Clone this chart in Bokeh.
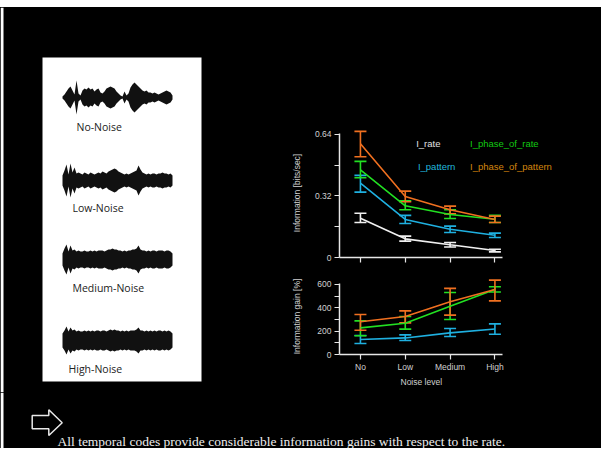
import numpy as np
from bokeh.plotting import figure
from bokeh.models import (Range1d, FixedTicker, Whisker, TeeHead, ColumnDataSource, Label,
                          Spacer, Title)
from bokeh.layouts import row, column
from bokeh.embed import file_html
from bokeh.resources import INLINE
from bokeh.core.properties import value

# ---------------- data ----------------
levels = ["No", "Low", "Medium", "High"]
xpos = [0, 1, 2, 3]

# Information [bits/sec]
rate = [0.204, 0.097, 0.066, 0.036]
rate_lo = [0.182, 0.085, 0.055, 0.029]
rate_hi = [0.230, 0.111, 0.078, 0.043]
pattern = [0.387, 0.198, 0.147, 0.116]
pattern_lo = [0.340, 0.177, 0.130, 0.104]
pattern_hi = [0.427, 0.219, 0.163, 0.127]
phase_rate = [0.456, 0.269, 0.224, 0.199]
phase_rate_lo = [0.415, 0.248, 0.203, 0.182]
phase_rate_hi = [0.500, 0.295, 0.248, 0.219]
phase_pattern = [0.592, 0.317, 0.248, 0.198]
phase_pattern_lo = [0.524, 0.290, 0.227, 0.182]
phase_pattern_hi = [0.656, 0.345, 0.267, 0.215]

# Information gain [%]
pattern_gain = [129, 142, 185, 219]
pattern_gain_lo = [94, 120, 154, 174]
pattern_gain_hi = [163, 168, 223, 262]
phase_rate_gain = [228, 268, 414, 557]
phase_rate_gain_lo = [160, 217, 300, 535]
phase_rate_gain_hi = [288, 326, 531, 580]
phase_pattern_gain = [280, 326, 451, 557]
phase_pattern_gain_lo = [208, 271, 337, 459]
phase_pattern_gain_hi = [343, 374, 566, 637]

top_ticks = [0, 0.32, 0.64]
top_minor = [0.16, 0.48]
bot_ticks = [0, 200, 400, 600]
bot_minor = [100, 300, 500]

legend_names = ["I_rate", "I_phase_of_rate", "I_pattern", "I_phase_of_pattern"]

wave_labels = ["No-Noise", "Low-Noise", "Medium-Noise", "High-Noise"]
# half-amplitudes of the sound envelopes (2 px steps)
wave_no = [1, 3, 6, 9, 11, 7, 3, 17, 4, 2, 7, 9, 8, 10, 8, 9, 6, 8, 9, 5, 4, 6, 9, 10,
           11, 10, 9, 6, 4, 2, 1, 6, 2, 4, 10, 13, 15, 13, 11, 9, 7, 6, 7, 5, 5, 4,
           5, 4, 3, 4, 5, 6, 7, 6, 5, 2]
wave_low = [5, 10, 16, 6, 17, 8, 13, 7, 8, 7, 6, 8, 7, 6, 8, 7, 6, 7, 8, 7, 9, 8, 7, 9,
            10, 11, 12, 11, 9, 8, 7, 6, 7, 6, 7, 8, 9, 10, 15, 11, 8, 7, 6, 7, 6, 7,
            7, 6, 7, 7, 8, 7, 7, 6, 7, 5]
wave_med = [6, 11, 15, 8, 14, 9, 10, 8, 9, 8, 8, 9, 8, 8, 9, 8, 9, 8, 9, 9, 9, 8, 9, 10,
            10, 11, 10, 10, 9, 9, 8, 9, 8, 9, 9, 10, 10, 11, 14, 10, 9, 9, 8, 9, 8, 9,
            9, 8, 9, 9, 9, 8, 9, 9, 8, 6]
wave_high = [7, 10, 14, 9, 13, 10, 11, 9, 10, 9, 9, 10, 9, 10, 9, 10, 9, 10, 10, 9, 10, 10, 9, 10,
             11, 10, 11, 10, 10, 9, 10, 9, 10, 9, 10, 10, 10, 11, 13, 10, 10, 9, 10, 9, 10, 9,
             10, 9, 10, 10, 9, 10, 9, 10, 9, 7]

caption = "All temporal codes provide considerable information gains with respect to the rate."

# ---------------- styles ----------------
BG = "black"
C_WHITE = "#F0F0F0"
C_CYAN = "#1FB0E0"
C_GREEN = "#22E022"
C_ORANGE = "#F07020"
TXT = "#D0D0D0"
FONT = "Liberation Sans"
BLACK_STYLE = {"background-color": "black"}


def base(w, h, **kw):
    p = figure(width=w, height=h, output_backend="svg", toolbar_location=None,
               background_fill_color=BG, border_fill_color=BG,
               outline_line_color=None, **kw)
    p.grid.visible = False
    return p


def style_axis(ax):
    ax.axis_line_color = "#E6E6E6"
    ax.axis_line_width = 1.5
    ax.major_tick_line_color = "#E6E6E6"
    ax.major_tick_line_width = 1.2
    ax.minor_tick_line_color = "#E6E6E6"
    ax.minor_tick_line_width = 1.2
    ax.major_tick_out = 5
    ax.major_tick_in = 0
    ax.minor_tick_out = 5
    ax.minor_tick_in = 0
    ax.major_label_text_color = TXT
    ax.major_label_text_font = FONT
    ax.major_label_text_font_size = "8.5px"
    ax.axis_label_text_color = TXT
    ax.axis_label_text_font = FONT
    ax.axis_label_text_font_size = "8.5px"
    ax.axis_label_text_font_style = "normal"


def series(p, y, lo, hi, color):
    p.line(xpos, y, line_color=color, line_width=1.6)
    src = ColumnDataSource(dict(x=xpos, lo=lo, hi=hi))
    p.add_layout(Whisker(base="x", lower="lo", upper="hi", source=src,
                         line_color=color, line_width=1.6,
                         lower_head=TeeHead(size=12, line_color=color, line_width=1.6),
                         upper_head=TeeHead(size=12, line_color=color, line_width=1.6)))


# ---------------- left panel ----------------
left = base(288, 385, x_range=Range1d(0, 288), y_range=Range1d(392, 7),
            x_axis_type=None, y_axis_type=None, min_border=0)
left.quad(left=0, right=3, top=7, bottom=392, fill_color="white", line_color=None)
left.quad(left=42, right=201, top=57, bottom=381, fill_color="white", line_color=None)
wx = np.linspace(62, 172, len(wave_no))
for amp, cy in zip([wave_no, wave_low, wave_med, wave_high], [97, 180, 259, 340]):
    a = np.array(amp, dtype=float)
    left.varea(x=wx, y1=cy - a, y2=cy + a, fill_color="#111111")
left.text(x=[76, 72, 72, 68], y=[126, 207, 287, 368], text=wave_labels,
          text_font=value("Open Sans"), text_font_size="10.5px", text_color="#222222",
          text_baseline="middle", text_align="left")

# ---------------- charts (frames extended right so legend text is not clipped) ----------
X0, X1 = -0.467, 3.178
XEND = X0 + 258 / 45

pt = base(313, 263, x_range=Range1d(X0, XEND), y_range=Range1d(0, 0.671),
          min_border_left=50, min_border_right=5, min_border_top=121, min_border_bottom=13)
series(pt, rate, rate_lo, rate_hi, C_WHITE)
series(pt, pattern, pattern_lo, pattern_hi, C_CYAN)
series(pt, phase_rate, phase_rate_lo, phase_rate_hi, C_GREEN)
series(pt, phase_pattern, phase_pattern_lo, phase_pattern_hi, C_ORANGE)
for ax in pt.axis:
    style_axis(ax)
pt.yaxis.ticker = FixedTicker(ticks=top_ticks, minor_ticks=top_minor)
pt.yaxis.major_label_overrides = {0: "0", 0.32: "0.32", 0.64: "0.64"}
pt.yaxis.bounds = (0, 0.645)
pt.yaxis.axis_label = "Information [bits/sec]"
pt.yaxis.major_label_standoff = 3
pt.yaxis.axis_label_standoff = 10
pt.xaxis.ticker = FixedTicker(ticks=xpos, minor_ticks=[])
pt.xaxis.bounds = (X0, X1)
pt.xaxis.major_label_text_color = None
pt.xaxis.major_label_text_font_size = "1px"
pt.xaxis.major_label_standoff = 0

legend_pos = [(1.244, 0.592), (2.444, 0.592), (1.282, 0.473), (2.444, 0.473)]
legend_cols = ["#E0E0E0", "#12C812", "#22B8DC", "#D4860E"]
for name, (lx, ly), col in zip(legend_names, legend_pos, legend_cols):
    pt.add_layout(Label(x=lx, y=ly, text=name, text_color=col, text_font=FONT,
                        text_font_size="9.5px", text_baseline="middle", text_align="left"))

pb = base(313, 122, x_range=Range1d(X0, XEND), y_range=Range1d(0, 651),
          min_border_left=50, min_border_right=5, min_border_top=8, min_border_bottom=38)
series(pb, pattern_gain, pattern_gain_lo, pattern_gain_hi, C_CYAN)
series(pb, phase_rate_gain, phase_rate_gain_lo, phase_rate_gain_hi, C_GREEN)
series(pb, phase_pattern_gain, phase_pattern_gain_lo, phase_pattern_gain_hi, C_ORANGE)
for ax in pb.axis:
    style_axis(ax)
pb.yaxis.ticker = FixedTicker(ticks=bot_ticks, minor_ticks=bot_minor)
pb.yaxis.bounds = (0, 610)
pb.yaxis.axis_label = "Information gain [%]"
pb.yaxis.major_label_standoff = 3
pb.yaxis.axis_label_standoff = 12
pb.xaxis.ticker = FixedTicker(ticks=xpos, minor_ticks=[])
pb.xaxis.bounds = (X0, X1)
pb.xaxis.major_label_overrides = {i: s for i, s in zip(xpos, levels)}
pb.xaxis.major_label_standoff = 2
# x-axis title, centred under the axis line (not under the wider frame)
pb.add_layout(Title(text="Noise level", align="left", offset=61, standoff=0,
                    text_color=TXT, text_font=FONT, text_font_size="8.5px",
                    text_font_style="normal"), "below")

# ---------------- caption strip ----------------
bot = base(601, 56, x_range=Range1d(0, 601), y_range=Range1d(448, 392),
           x_axis_type=None, y_axis_type=None, min_border=0)
bot.quad(left=0, right=3, top=392, bottom=448, fill_color="white", line_color=None)
bot.patch(x=[31.7, 48.3, 48.3, 61.7, 48.3, 48.3, 31.7],
          y=[415, 415, 409.3, 422.3, 435, 428.3, 428.3],
          fill_color=BG, line_color="#E8E8E8", line_width=1.5)
bot.text(x=[57], y=[441], text=[caption], text_font=value("Liberation Serif"),
         text_font_size="13.5px", text_color="#EEEEEE", text_baseline="middle",
         text_align="left")

top_strip = Spacer(width=601, height=7, styles={"background-color": "white"})
layout = column(
    top_strip,
    row(left, column(pt, pb, styles=BLACK_STYLE), styles=BLACK_STYLE),
    bot, styles=BLACK_STYLE)
open("out.html", "w").write(file_html(layout, INLINE))
